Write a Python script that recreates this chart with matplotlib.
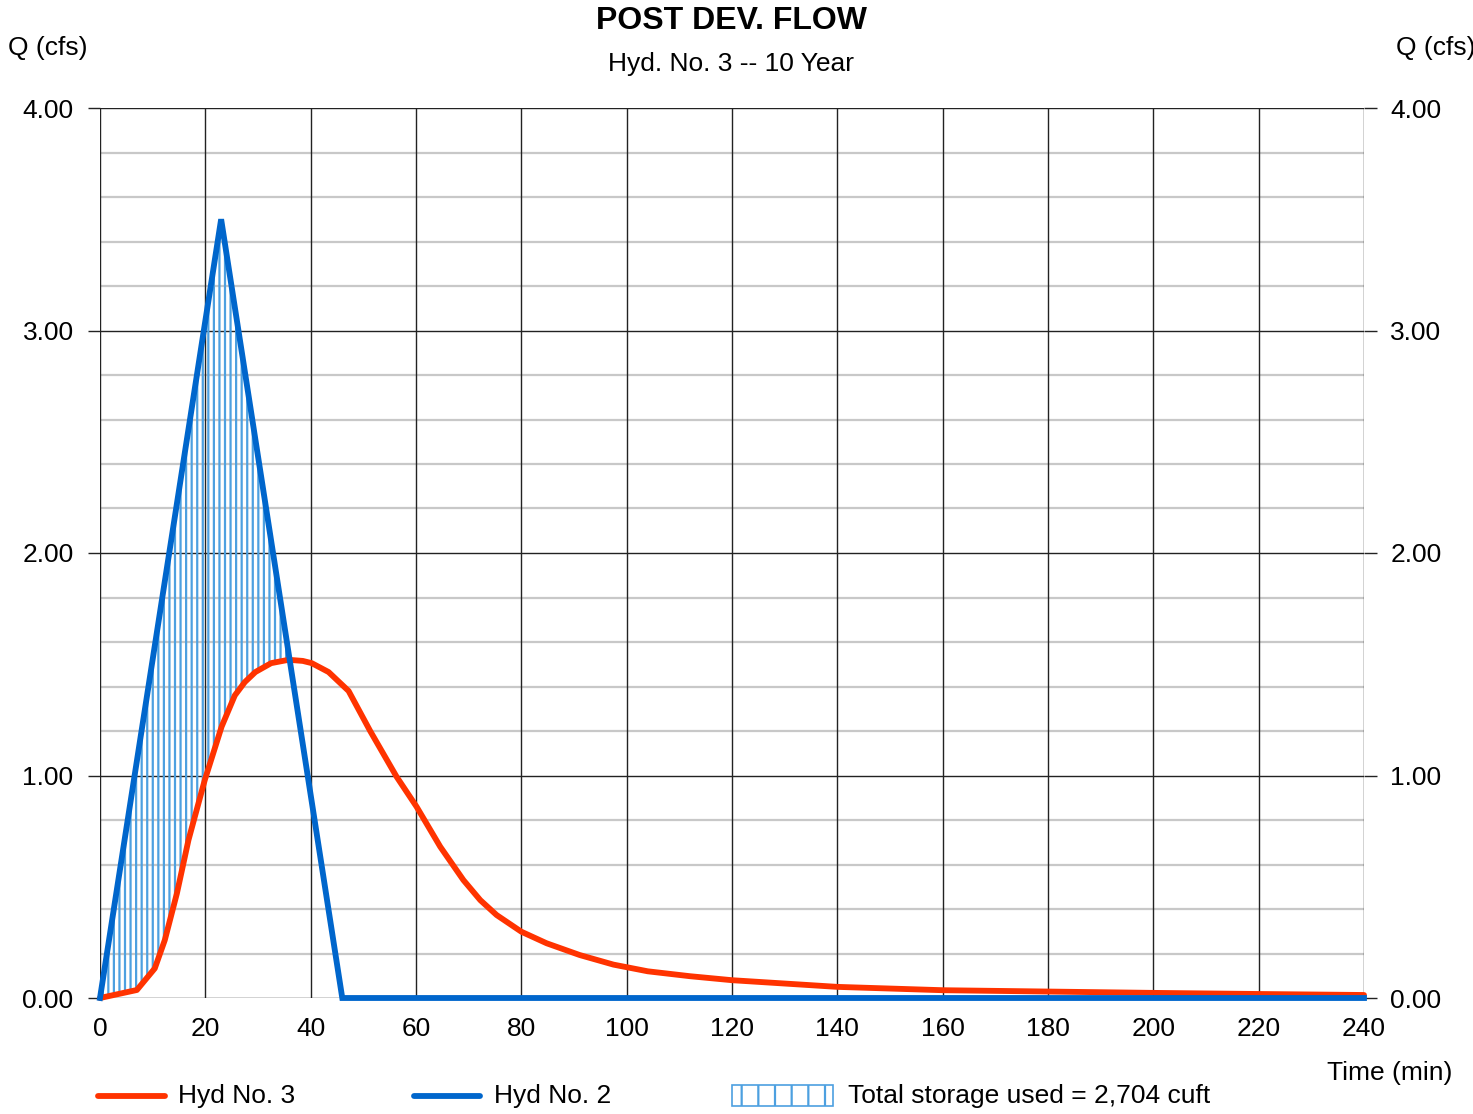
import numpy as np
import matplotlib
matplotlib.use('Agg')
import matplotlib.pyplot as plt
from matplotlib.lines import Line2D
from matplotlib.patches import Rectangle

plt.rcParams['font.family'] = ['Liberation Sans', 'DejaVu Sans']
plt.rcParams['hatch.linewidth'] = 1.6

# Hyd No. 3 (outflow)
t_out = [0, 7, 10.4, 12.3, 14.6, 16.8, 19.9, 23.1, 25.6, 27.5, 29.5, 32.5, 35.8, 38.5, 40.2, 43.4,
         47.2, 51.3, 56.3, 60.1, 64.6, 69.0, 72.2, 75.3, 80.0, 84.8, 91.1, 97.5, 104,
         112, 120, 140, 160, 180, 200, 220, 240]
q_out = [0, 0.036, 0.133, 0.26, 0.47, 0.71, 0.98, 1.22, 1.36, 1.42, 1.465, 1.505, 1.52, 1.515, 1.505, 1.465,
         1.38, 1.20, 0.995, 0.86, 0.68, 0.53, 0.44, 0.373, 0.298, 0.246, 0.193, 0.150, 0.120,
         0.098, 0.080, 0.050, 0.035, 0.029, 0.023, 0.018, 0.0135]

# Hyd No. 2 (inflow)
t_in = [0, 23, 46, 240]
q_in = [0, 3.50, 0, 0]

x_ticks = list(range(0, 241, 20))
y_major = [0, 1, 2, 3, 4]
y_minor = [0.2, 0.4, 0.6, 0.8, 1.2, 1.4, 1.6, 1.8, 2.2, 2.4, 2.6, 2.8, 3.2, 3.4, 3.6, 3.8]

title = 'POST DEV. FLOW'
subtitle = 'Hyd. No. 3 -- 10 Year'
storage_label = 'Total storage used = 2,704 cuft'

red = '#FF3300'
blue = '#0066CC'
hatch_blue = '#4DA0E0'
fs = 19

W, H = 1473, 1114
fig = plt.figure(figsize=(W / 100, H / 100), dpi=100)
ax = fig.add_axes([100 / W, 1 - 998 / H, 1264 / W, 890 / H])
ax.set_xlim(0, 240)
ax.set_ylim(0, 4)

# grid
for y in y_minor:
    ax.axhline(y, color='#c8c8c8', lw=1.6, zorder=1)
for y in y_major:
    ax.axhline(y, color='#222222', lw=1.0, zorder=2)
for x in x_ticks:
    ax.axvline(x, color='#222222', lw=1.0, zorder=2)
for s in ax.spines.values():
    s.set_visible(False)

# storage hatch between inflow and outflow
tt = np.union1d(t_in, t_out)
qi = np.interp(tt, t_in, q_in)
qo = np.interp(tt, t_out, q_out)
ax.fill_between(tt, qo, qi, where=qi > qo, interpolate=True, facecolor='none',
                edgecolor=hatch_blue, hatch='|||', linewidth=0, zorder=3)

ax.plot(t_out, q_out, color=red, lw=4.2, zorder=4, clip_on=False, solid_capstyle='round',
        solid_joinstyle='round')
ax.plot(t_in, q_in, color=blue, lw=4.2, zorder=5, clip_on=False, solid_joinstyle='miter')

ax.set_xticks(x_ticks)
ax.set_yticks(y_major)
ax.set_yticklabels([f'{v:.2f}' for v in y_major])
ax.tick_params(axis='x', length=0, pad=14, labelsize=fs)
ax.tick_params(axis='y', length=9, width=1.0, color='#222222', pad=10, labelsize=fs,
               left=True, right=True, labelleft=True, labelright=True)

fig.text(732 / W, 1 - 21 / H, title, ha='center', va='center', fontsize=23, fontweight='bold')
fig.text(731 / W, 1 - 64 / H, subtitle, ha='center', va='center', fontsize=fs)
fig.text(8 / W, 1 - 48 / H, 'Q (cfs)', ha='left', va='center', fontsize=fs)
fig.text(1396 / W, 1 - 48 / H, 'Q (cfs)', ha='left', va='center', fontsize=fs)
fig.text(1452 / W, 1 - 1073 / H, 'Time (min)', ha='right', va='center', fontsize=fs)

# legend row
ly = 1 - 1096 / H
fig.add_artist(Line2D([98 / W, 165 / W], [ly, ly], color=red, lw=4.2, solid_capstyle='round'))
fig.text(178 / W, ly, 'Hyd No. 3', ha='left', va='center', fontsize=fs)
fig.add_artist(Line2D([414 / W, 480 / W], [ly, ly], color=blue, lw=4.2, solid_capstyle='round'))
fig.text(494 / W, ly, 'Hyd No. 2', ha='left', va='center', fontsize=fs)
fig.add_artist(Rectangle((732 / W, 1 - 1106 / H), 101 / W, 21 / H, transform=fig.transFigure,
                         facecolor='none', edgecolor=hatch_blue, hatch='|', lw=1.2))
fig.text(848 / W, ly, storage_label, ha='left', va='center', fontsize=fs)

fig.savefig('out.png', dpi=100)
